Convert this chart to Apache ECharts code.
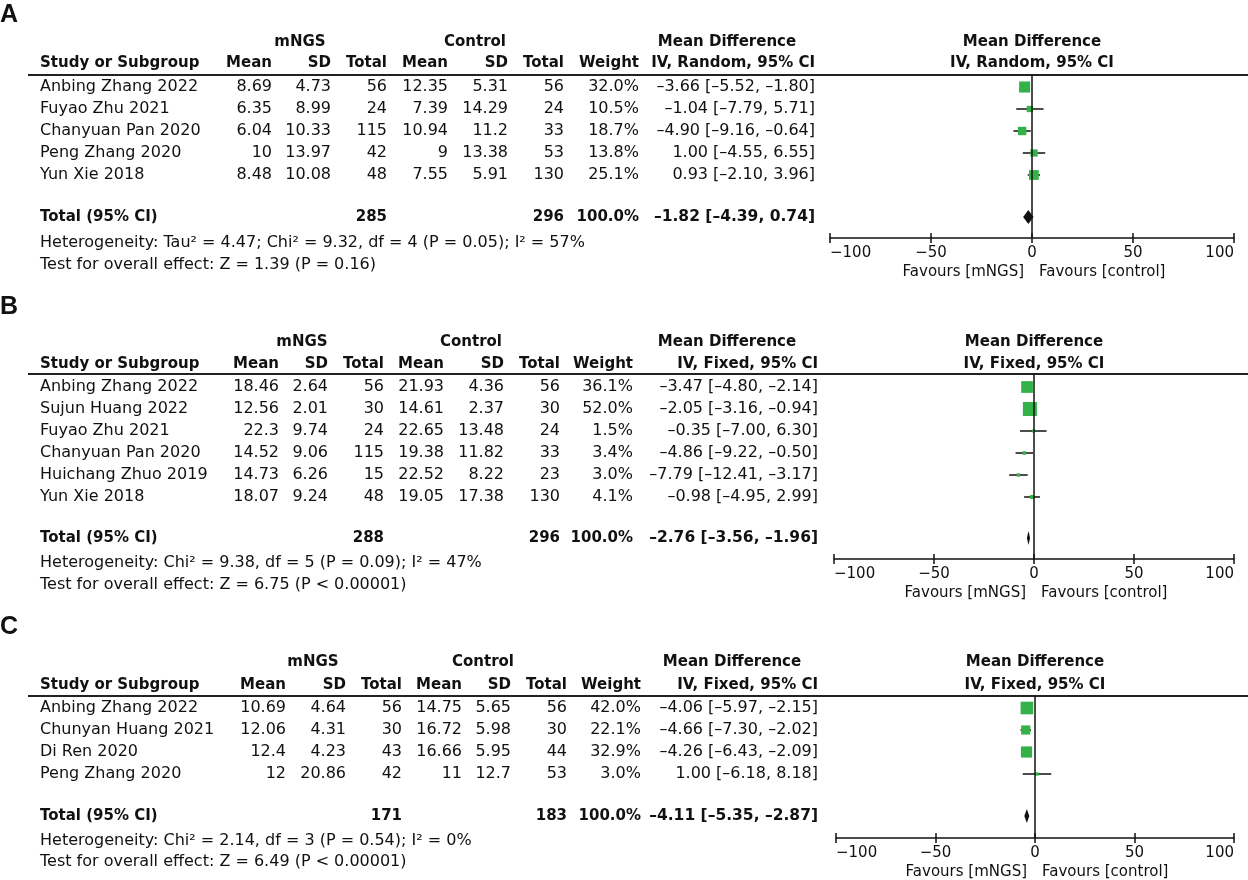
<!DOCTYPE html>
<html>
<head>
<meta charset="utf-8">
<title>Forest plots</title>
<script src="https://cdn.jsdelivr.net/npm/echarts@6/dist/echarts.min.js"></script>
<style>
html, body { margin: 0; padding: 0; background: #fff; }
#main { width: 1248px; height: 880px; }
</style>
</head>
<body>
<div id="main"></div>
<script>
// ---- A ----
var studiesA = ['Anbing Zhang 2022', 'Fuyao Zhu 2021', 'Chanyuan Pan 2020', 'Peng Zhang 2020', 'Yun Xie 2018'];
var mngsMeanA = [8.69, 6.35, 6.04, 10, 8.48];
var mngsSdA = [4.73, 8.99, 10.33, 13.97, 10.08];
var mngsNA = [56, 24, 115, 42, 48];
var ctrlMeanA = [12.35, 7.39, 10.94, 9, 7.55];
var ctrlSdA = [5.31, 14.29, 11.2, 13.38, 5.91];
var ctrlNA = [56, 24, 33, 53, 130];
var weightA = [32.0, 10.5, 18.7, 13.8, 25.1];
var mdA = [-3.66, -1.04, -4.90, 1.00, 0.93];
var loA = [-5.52, -7.79, -9.16, -4.55, -2.10];
var hiA = [-1.80, 5.71, -0.64, 6.55, 3.96];
var totalNA = [285, 296];
var totalMdA = [-1.82, -4.39, 0.74];
var hetA = 'Heterogeneity: Tau\u00b2 = 4.47; Chi\u00b2 = 9.32, df = 4 (P = 0.05); I\u00b2 = 57%';
var testA = 'Test for overall effect: Z = 1.39 (P = 0.16)';

// ---- B ----
var studiesB = ['Anbing Zhang 2022', 'Sujun Huang 2022', 'Fuyao Zhu 2021', 'Chanyuan Pan 2020', 'Huichang Zhuo 2019', 'Yun Xie 2018'];
var mngsMeanB = [18.46, 12.56, 22.3, 14.52, 14.73, 18.07];
var mngsSdB = [2.64, 2.01, 9.74, 9.06, 6.26, 9.24];
var mngsNB = [56, 30, 24, 115, 15, 48];
var ctrlMeanB = [21.93, 14.61, 22.65, 19.38, 22.52, 19.05];
var ctrlSdB = [4.36, 2.37, 13.48, 11.82, 8.22, 17.38];
var ctrlNB = [56, 30, 24, 33, 23, 130];
var weightB = [36.1, 52.0, 1.5, 3.4, 3.0, 4.1];
var mdB = [-3.47, -2.05, -0.35, -4.86, -7.79, -0.98];
var loB = [-4.80, -3.16, -7.00, -9.22, -12.41, -4.95];
var hiB = [-2.14, -0.94, 6.30, -0.50, -3.17, 2.99];
var totalNB = [288, 296];
var totalMdB = [-2.76, -3.56, -1.96];
var hetB = 'Heterogeneity: Chi\u00b2 = 9.38, df = 5 (P = 0.09); I\u00b2 = 47%';
var testB = 'Test for overall effect: Z = 6.75 (P < 0.00001)';

// ---- C ----
var studiesC = ['Anbing Zhang 2022', 'Chunyan Huang 2021', 'Di Ren 2020', 'Peng Zhang 2020'];
var mngsMeanC = [10.69, 12.06, 12.4, 12];
var mngsSdC = [4.64, 4.31, 4.23, 20.86];
var mngsNC = [56, 30, 43, 42];
var ctrlMeanC = [14.75, 16.72, 16.66, 11];
var ctrlSdC = [5.65, 5.98, 5.95, 12.7];
var ctrlNC = [56, 30, 44, 53];
var weightC = [42.0, 22.1, 32.9, 3.0];
var mdC = [-4.06, -4.66, -4.26, 1.00];
var loC = [-5.97, -7.30, -6.43, -6.18];
var hiC = [-2.15, -2.02, -2.09, 8.18];
var totalNC = [171, 183];
var totalMdC = [-4.11, -5.35, -2.87];
var hetC = 'Heterogeneity: Chi\u00b2 = 2.14, df = 3 (P = 0.54); I\u00b2 = 0%';
var testC = 'Test for overall effect: Z = 6.49 (P < 0.00001)';

var tickValues = [-100, -50, 0, 50, 100];
var colHeads = ['Study or Subgroup', 'Mean', 'SD', 'Total', 'Mean', 'SD', 'Total', 'Weight'];
var groupHeads = ['mNGS', 'Control', 'Mean Difference'];
var favours = ['Favours [mNGS]', 'Favours [control]'];

var FONT = '"DejaVu Sans", Verdana, sans-serif';
var INK = '#111';
var GREEN = '#33b249';

var panels = [
    { letter: 'A', method: 'IV, Random, 95% CI', studies: studiesA, mngsMean: mngsMeanA, mngsSd: mngsSdA, mngsN: mngsNA,
      ctrlMean: ctrlMeanA, ctrlSd: ctrlSdA, ctrlN: ctrlNA, weight: weightA, md: mdA, lo: loA, hi: hiA,
      totalN: totalNA, totalMd: totalMdA, het: hetA, test: testA,
      lay: { letterY: 15, groupY: 42, headY: 63, lineY: 75, row0Y: 87, rowH: 22, totalY: 217, axisY: 238, hetY: 243, testY: 265,
             cols: [40, 272, 331, 387, 448, 508, 564, 639, 815], groups: [300, 475, 727], plotL: 830, plotR: 1234 } },
    { letter: 'B', method: 'IV, Fixed, 95% CI', studies: studiesB, mngsMean: mngsMeanB, mngsSd: mngsSdB, mngsN: mngsNB,
      ctrlMean: ctrlMeanB, ctrlSd: ctrlSdB, ctrlN: ctrlNB, weight: weightB, md: mdB, lo: loB, hi: hiB,
      totalN: totalNB, totalMd: totalMdB, het: hetB, test: testB,
      lay: { letterY: 307, groupY: 342, headY: 364, lineY: 374, row0Y: 387, rowH: 22, totalY: 538, axisY: 559, hetY: 563, testY: 585,
             cols: [40, 279, 328, 384, 444, 504, 560, 633, 818], groups: [302, 471, 727], plotL: 834, plotR: 1234 } },
    { letter: 'C', method: 'IV, Fixed, 95% CI', studies: studiesC, mngsMean: mngsMeanC, mngsSd: mngsSdC, mngsN: mngsNC,
      ctrlMean: ctrlMeanC, ctrlSd: ctrlSdC, ctrlN: ctrlNC, weight: weightC, md: mdC, lo: loC, hi: hiC,
      totalN: totalNC, totalMd: totalMdC, het: hetC, test: testC,
      lay: { letterY: 627, groupY: 662, headY: 685, lineY: 696, row0Y: 708, rowH: 22, totalY: 816, axisY: 838, hetY: 841, testY: 862,
             cols: [40, 286, 346, 402, 462, 511, 567, 641, 818], groups: [313, 483, 732], plotL: 836, plotR: 1234 } }
];

// table numbers use a short dash like the original, axis labels a true minus
function num(v) { return String(v).replace('-', '\u2013'); }
function fix2(v) { return v.toFixed(2).replace('-', '\u2013'); }
function ciText(m, l, h) { return fix2(m) + ' [' + fix2(l) + ', ' + fix2(h) + ']'; }

var gfx = [];
function addText(x, y, s, align, bold, size, family) {
    gfx.push({
        type: 'text', x: x, y: y, silent: true,
        style: {
            text: s, fill: INK,
            align: align, textAlign: align, verticalAlign: 'middle', textVerticalAlign: 'middle',
            font: (bold ? 'bold ' : '') + (size || (bold ? 15 : 16)) + 'px ' + (family || FONT)
        }
    });
}

function renderStudy(params, api) {
    var row = api.value(4);
    var pLo = api.coord([api.value(0), row]);
    var pHi = api.coord([api.value(1), row]);
    var c = api.coord([api.value(2), row]);
    var s = Math.max(3, 1.95 * Math.sqrt(api.value(3)));
    return {
        type: 'group',
        children: [
            { type: 'line', shape: { x1: pLo[0], y1: pLo[1], x2: pHi[0], y2: pHi[1] }, style: { stroke: INK, lineWidth: 1.5 } },
            { type: 'rect', shape: { x: c[0] - s / 2, y: c[1] - s / 2, width: s, height: s }, style: { fill: GREEN } }
        ]
    };
}

function renderDiamond(params, api) {
    var row = api.value(3);
    var pLo = api.coord([api.value(1), row]);
    var pHi = api.coord([api.value(2), row]);
    var c = api.coord([api.value(0), row]);
    return {
        type: 'polygon',
        shape: { points: [[pLo[0], c[1]], [c[0], c[1] - 7], [pHi[0], c[1]], [c[0], c[1] + 7]] },
        style: { fill: INK }
    };
}

var grids = [], xAxes = [], yAxes = [], series = [];

for (var k = 0; k < panels.length; k++) {
    var p = panels[k];
    var L = p.lay;
    var n = p.studies.length;
    var zeroX = (L.plotL + L.plotR) / 2;

    // table text
    addText(0, L.letterY, p.letter, 'left', true, 25, '"Liberation Sans", Arial, sans-serif');
    addText(L.groups[0], L.groupY, groupHeads[0], 'center', true);
    addText(L.groups[1], L.groupY, groupHeads[1], 'center', true);
    addText(L.groups[2], L.groupY, groupHeads[2], 'center', true);
    addText(zeroX, L.groupY, groupHeads[2], 'center', true);
    addText(zeroX, L.headY, p.method, 'center', true);
    for (var c = 0; c < colHeads.length; c++) {
        addText(L.cols[c], L.headY, colHeads[c], c === 0 ? 'left' : 'right', true);
    }
    addText(L.cols[8], L.headY, p.method, 'right', true);
    gfx.push({ type: 'line', silent: true, shape: { x1: 28, y1: L.lineY, x2: 1248, y2: L.lineY }, style: { stroke: '#222', lineWidth: 2 } });

    var ciData = [];
    for (var i = 0; i < n; i++) {
        var y = L.row0Y + i * L.rowH;
        addText(L.cols[0], y, p.studies[i], 'left');
        addText(L.cols[1], y, num(p.mngsMean[i]), 'right');
        addText(L.cols[2], y, num(p.mngsSd[i]), 'right');
        addText(L.cols[3], y, num(p.mngsN[i]), 'right');
        addText(L.cols[4], y, num(p.ctrlMean[i]), 'right');
        addText(L.cols[5], y, num(p.ctrlSd[i]), 'right');
        addText(L.cols[6], y, num(p.ctrlN[i]), 'right');
        addText(L.cols[7], y, p.weight[i].toFixed(1) + '%', 'right');
        addText(L.cols[8], y, ciText(p.md[i], p.lo[i], p.hi[i]), 'right');
        ciData.push([p.lo[i], p.hi[i], p.md[i], p.weight[i], i]);
    }
    addText(L.cols[0], L.totalY, 'Total (95% CI)', 'left', true);
    addText(L.cols[3], L.totalY, num(p.totalN[0]), 'right', true);
    addText(L.cols[6], L.totalY, num(p.totalN[1]), 'right', true);
    addText(L.cols[7], L.totalY, '100.0%', 'right', true);
    addText(L.cols[8], L.totalY, ciText(p.totalMd[0], p.totalMd[1], p.totalMd[2]), 'right', true, 15.5);
    addText(L.cols[0], L.hetY, p.het, 'left');
    addText(L.cols[0], L.testY, p.test, 'left');
    addText(zeroX - 8, L.axisY + 34, favours[0], 'right', false, 15);
    addText(zeroX + 7, L.axisY + 34, favours[1], 'left', false, 15);

    // plot area: rows map to y so that the grid spans header rule to axis
    var yMin = (L.lineY - L.row0Y) / L.rowH;
    var yMax = (L.axisY - L.row0Y) / L.rowH;
    var totalRow = (L.totalY - L.row0Y) / L.rowH;

    grids.push({ left: L.plotL, width: L.plotR - L.plotL, top: L.lineY, height: L.axisY - L.lineY });
    yAxes.push({ type: 'value', gridIndex: k, inverse: true, min: yMin, max: yMax, show: false });
    var axisBase = {
        type: 'value', gridIndex: k, position: 'bottom',
        min: tickValues[0], max: tickValues[tickValues.length - 1], interval: tickValues[1] - tickValues[0],
        splitLine: { show: false }
    };
    xAxes.push(echarts.util.merge({
        axisLine: { onZero: false, lineStyle: { color: INK, width: 1.5 } },
        axisTick: { length: 5, lineStyle: { color: INK, width: 1.5 } },
        axisLabel: { fontFamily: FONT, fontSize: 15, color: INK, margin: 8, alignMinLabel: 'left', alignMaxLabel: 'right',
                     formatter: function (v) { return String(v).replace('-', '\u2212'); } }
    }, axisBase, true));
    xAxes.push(echarts.util.merge({
        axisLine: { show: false, onZero: false },
        axisTick: { inside: true, length: 5, lineStyle: { color: INK, width: 1.5 } },
        axisLabel: { show: false }
    }, axisBase, true));

    series.push({
        type: 'custom', xAxisIndex: 2 * k, yAxisIndex: k, data: ciData,
        encode: { x: [0, 1, 2], y: 4 }, renderItem: renderStudy, z: 3,
        markLine: {
            silent: true, symbol: ['none', 'none'], label: { show: false },
            lineStyle: { color: INK, width: 1.5, type: 'solid' },
            data: [{ xAxis: 0 }]
        }
    });
    series.push({
        type: 'custom', xAxisIndex: 2 * k, yAxisIndex: k,
        data: [[p.totalMd[0], p.totalMd[1], p.totalMd[2], totalRow]],
        encode: { x: [0, 1, 2], y: 3 }, renderItem: renderDiamond, z: 4
    });
}

var chartObj = echarts.init(document.getElementById('main'));
chartObj.setOption({
    backgroundColor: '#fff',
    animation: false,
    grid: grids,
    xAxis: xAxes,
    yAxis: yAxes,
    series: series,
    graphic: { elements: gfx }
});
</script>
</body>
</html>
